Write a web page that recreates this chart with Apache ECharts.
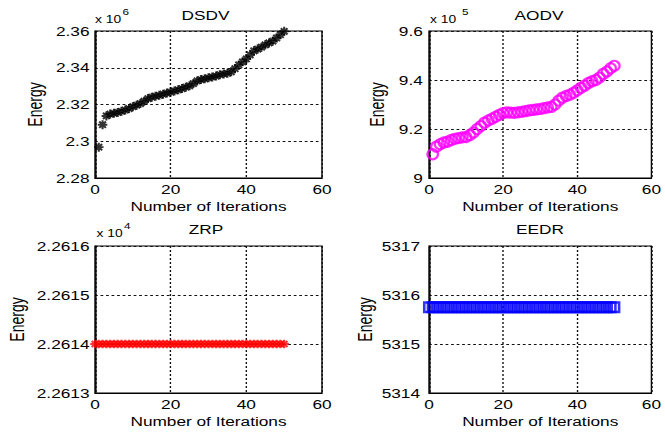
<!DOCTYPE html>
<html>
<head>
<meta charset="utf-8">
<script src="https://cdn.jsdelivr.net/npm/echarts@6/dist/echarts.min.js"></script>
<style>
  html, body { margin: 0; padding: 0; background: #fff; overflow: hidden; }
  /* the figure is drawn narrow and widened, giving the broad lettering of the original export */
  #chart { width: 482px; height: 435px; transform: scaleX(1.38); transform-origin: 0 0; }
</style>
</head>
<body>
<div id="chart"></div>
<script>
// ---- data -------------------------------------------------------------
const iterDSDV = [1,2,3,4,5,6,7,8,9,10,11,12,13,14,15,16,17,18,19,20,21,22,23,24,25,
  26,27,28,29,30,31,32,33,34,35,36,37,38,39,40,41,42,43,44,45,46,47,48,49,50];
const energyDSDV = [2296800,2309000,2313800,2314800,2315200,2315700,2316300,2317000,2317800,2318800,
  2319600,2320500,2321800,2323200,2324000,2324500,2325000,2325600,2326200,2326800,
  2327400,2328000,2328700,2329400,2330200,2331400,2332800,2333600,2334000,2334500,
  2335000,2335500,2336200,2336600,2337000,2337800,2339500,2341500,2343200,2344800,
  2347000,2349200,2350200,2351200,2352500,2353500,2354500,2356200,2358000,2359800];

const iterAODV = [1,2,3,4,5,6,7,8,9,10,11,12,13,14,15,16,17,18,19,20,21,22,23,24,25,
  26,27,28,29,30,31,32,33,34,35,36,37,38,39,40,41,42,43,44,45,46,47,48,49,50];
const energyAODV = [909700,912800,913800,914500,914800,915500,916000,916300,916600,916700,
  917500,918600,920000,921200,922600,923500,924200,925000,925800,926500,
  926800,926700,926600,926800,927000,927300,927600,927800,928000,928200,
  928500,928800,929000,930000,931600,932800,933500,934000,934800,935800,
  936800,937700,938800,939500,940000,941000,942500,943500,944800,945800];

const iterZRP = [0,1,2,3,4,5,6,7,8,9,10,11,12,13,14,15,16,17,18,19,20,21,22,23,24,25,
  26,27,28,29,30,31,32,33,34,35,36,37,38,39,40,41,42,43,44,45,46,47,48,49,50];
const energyZRP = [22614,22614,22614,22614,22614,22614,22614,22614,22614,22614,22614,
  22614,22614,22614,22614,22614,22614,22614,22614,22614,22614,22614,22614,22614,22614,
  22614,22614,22614,22614,22614,22614,22614,22614,22614,22614,22614,22614,22614,22614,
  22614,22614,22614,22614,22614,22614,22614,22614,22614,22614,22614,22614];

const iterEEDR = [0,1,2,3,4,5,6,7,8,9,10,11,12,13,14,15,16,17,18,19,20,21,22,23,24,25,
  26,27,28,29,30,31,32,33,34,35,36,37,38,39,40,41,42,43,44,45,46,47,48,49,50];
const energyEEDR = [5315.75,5315.75,5315.75,5315.75,5315.75,5315.75,5315.75,5315.75,5315.75,5315.75,
  5315.75,5315.75,5315.75,5315.75,5315.75,5315.75,5315.75,5315.75,5315.75,5315.75,
  5315.75,5315.75,5315.75,5315.75,5315.75,5315.75,5315.75,5315.75,5315.75,5315.75,
  5315.75,5315.75,5315.75,5315.75,5315.75,5315.75,5315.75,5315.75,5315.75,5315.75,
  5315.75,5315.75,5315.75,5315.75,5315.75,5315.75,5315.75,5315.75,5315.75,5315.75,5315.75];

const panelTitles = ['DSDV', 'AODV', 'ZRP', 'EEDR'];
const xTicks = { min: 0, max: 60, step: 20 };
const yRanges = [
  { min: 2280000, max: 2360000, step: 20000, scale: 1e6, exp: '6' },
  { min: 900000,  max: 960000,  step: 20000, scale: 1e5, exp: '5' },
  { min: 22613,   max: 22616,   step: 1,     scale: 1e4, exp: '4' },
  { min: 5314,    max: 5317,    step: 1,     scale: 1,   exp: null }
];
const xName = 'Number of Iterations';
const yName = 'Energy';

// ---- layout -----------------------------------------------------------
const SX = 1.38;                 // horizontal widening applied by CSS
const h = px => px / SX;         // page x-pixels -> chart units
const FONT = '"Liberation Sans", Arial, Helvetica, sans-serif';

const panels = [
  { left: 95,  top: 31,  width: 227, yGap: 36, yMargin: 4,   titleX: 205.5, titleTop: 8.5 },
  { left: 429, top: 31,  width: 226, yGap: 30, yMargin: 4.5, titleX: 539,   titleTop: 8.5 },
  { left: 95,  top: 246, width: 227, yGap: 49, yMargin: 4,   titleX: 206,   titleTop: 222.5 },
  { left: 429, top: 246, width: 226, yGap: 39, yMargin: 6.5, titleX: 540,   titleTop: 222.5 }
];
const PLOT_H = 147;

// "x 10^n" multiplier above the value axes
const expLabels = [
  { x: 95,   top: 14.5,  supX: 122.5, supTop: 7.5 },
  { x: 430,  top: 14.5,  supX: 462,   supTop: 7.5 },
  { x: 96.5, top: 228.5, supX: 124,   supTop: 222 }
];

const starPath = 'path://M-1.1,-5L1.1,-5L1.1,5L-1.1,5Z M-5,-1.1L5,-1.1L5,1.1L-5,1.1Z ' +
  'M-4.3,-2.75L-2.75,-4.3L4.3,2.75L2.75,4.3Z M2.75,-4.3L4.3,-2.75L-2.75,4.3L-4.3,2.75Z';

const zip = (xs, ys) => xs.map((x, i) => [x, ys[i]]);
const fmt = s => v => String(parseFloat((v / s).toFixed(5)));

const grid = panels.map(p => ({
  left: h(p.left), top: p.top, width: h(p.width), height: PLOT_H,
  show: true, borderColor: '#000', borderWidth: 1, backgroundColor: '#fff'
}));

const gridLine = { show: true, lineStyle: { color: '#111', width: 1, type: [2, 2] } };

const xAxis = panels.map((p, i) => ({
  gridIndex: i, type: 'value',
  min: xTicks.min, max: xTicks.max, interval: xTicks.step,
  axisLine: { show: true, lineStyle: { color: '#000', width: 1 } },
  axisTick: { show: false },
  axisLabel: { color: '#000', fontSize: 12.5, fontFamily: FONT, margin: 5 },
  splitLine: gridLine,
  name: xName, nameLocation: 'middle', nameGap: 22,
  nameTextStyle: { color: '#000', fontSize: 12.5, fontFamily: FONT }
}));

const yAxis = panels.map((p, i) => ({
  gridIndex: i, type: 'value',
  min: yRanges[i].min, max: yRanges[i].max, interval: yRanges[i].step,
  axisLine: { show: true, lineStyle: { color: '#000', width: 1 } },
  axisTick: { show: false },
  axisLabel: { color: '#000', fontSize: 12.5, fontFamily: FONT, margin: p.yMargin,
               formatter: fmt(yRanges[i].scale) },
  splitLine: gridLine,
  name: yName, nameLocation: 'middle', nameGap: p.yGap,
  nameTextStyle: { color: '#000', fontSize: 14, fontFamily: FONT }
}));

const title = panels.map((p, i) => ({
  text: panelTitles[i], left: h(p.titleX), top: p.titleTop, textAlign: 'center', padding: 0,
  textStyle: { color: '#000', fontSize: 12.5, fontWeight: 'normal', fontFamily: FONT }
}));

const graphic = [];
expLabels.forEach((e, i) => {
  graphic.push({ type: 'text', left: h(e.x), top: e.top, silent: true,
    style: { text: 'x 10', fill: '#000', font: '10px ' + FONT } });
  graphic.push({ type: 'text', left: h(e.supX), top: e.supTop, silent: true,
    style: { text: yRanges[i].exp, fill: '#000', font: '8.5px ' + FONT } });
});

const hollow = (c, w) => ({ color: 'rgba(0,0,0,0)', borderColor: c, borderWidth: w });

const series = [
  { name: panelTitles[0], type: 'scatter', xAxisIndex: 0, yAxisIndex: 0,
    data: zip(iterDSDV, energyDSDV), symbol: starPath, symbolSize: [h(9.5), 9],
    itemStyle: { color: '#000' } },
  { name: panelTitles[1], type: 'scatter', xAxisIndex: 1, yAxisIndex: 1,
    data: zip(iterAODV, energyAODV), symbol: 'circle', symbolSize: [h(10.5), 10],
    itemStyle: hollow('#ff00ff', 1.9) },
  { name: panelTitles[2], type: 'scatter', xAxisIndex: 2, yAxisIndex: 2,
    data: zip(iterZRP, energyZRP), symbol: starPath, symbolSize: [h(9.5), 8.5],
    itemStyle: { color: '#ff0000' } },
  { name: panelTitles[3], type: 'scatter', xAxisIndex: 3, yAxisIndex: 3,
    data: zip(iterEEDR, energyEEDR), symbol: 'rect', symbolSize: [h(9.5), 9.5],
    itemStyle: hollow('#0000ff', 2.2) }
].map(s => Object.assign(s, { silent: true, emphasis: { disabled: true } }));

const chart = echarts.init(document.getElementById('chart'), null, { renderer: 'svg' });
chart.setOption({
  backgroundColor: '#fff',
  animation: false,
  title, grid, xAxis, yAxis, series, graphic
});
</script>
</body>
</html>
